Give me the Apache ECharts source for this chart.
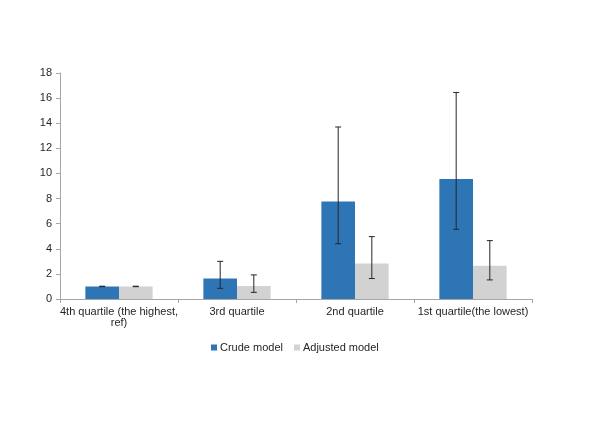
<!DOCTYPE html>
<html>
<head>
<meta charset="UTF-8">
<title></title>
<style type="text/css">
	* {margin: 0; padding: 0;}
	body {background: #fff;}
</style>
</head>
<body>
<div id="chart" style="width:613px;height:431px"></div>
<script src="https://cdn.jsdelivr.net/npm/echarts@6/dist/echarts.min.js"></script>
<script type="text/javascript">
var categories = ['4th quartile (the highest,\nref)', '3rd quartile', '2nd quartile', '1st quartile(the lowest)'];
var crude = [1.0, 1.63, 7.77, 9.55];
var crudeLow = [0.98, 0.85, 4.4, 5.55];
var crudeHigh = [1.02, 3.0, 13.7, 16.45];
var adjusted = [1.0, 1.03, 2.82, 2.65];
var adjustedLow = [0.98, 0.53, 1.63, 1.52];
var adjustedHigh = [1.02, 1.92, 4.97, 4.65];
var yTicks = {min: 0, max: 18, interval: 2};

var gapPct = 0.43;

function errData(low, high) {
	var out = [];
	for (var i = 0; i < low.length; i++) {
		out.push([i, low[i], high[i]]);
	}
	return out;
}

function errRender(side) {
	return function (params, api) {
		var cat = api.value(0);
		var lo = api.coord([cat, api.value(1)]);
		var hi = api.coord([cat, api.value(2)]);
		var catW = api.size([1, 0])[0];
		var bw = catW * (1 - gapPct) / 2;
		var x = lo[0] + side * bw / 2;
		var cap = 3;
		var style = {stroke: '#262626', lineWidth: 1};
		return {
			type: 'group',
			children: [
				{type: 'line', shape: {x1: x, y1: hi[1], x2: x, y2: lo[1]}, style: style},
				{type: 'line', shape: {x1: x - cap, y1: hi[1], x2: x + cap, y2: hi[1]}, style: style},
				{type: 'line', shape: {x1: x - cap, y1: lo[1], x2: x + cap, y2: lo[1]}, style: style}
			]
		};
	};
}

var chart = echarts.init(document.getElementById('chart'));

var option = {
	animation: false,
	textStyle: {fontFamily: 'Liberation Sans, Arial, sans-serif'},
	legend: {
		top: 337,
		left: 206,
		itemWidth: 6,
		itemHeight: 6,
		itemGap: 11,
		icon: 'rect',
		textStyle: {fontSize: 11, color: '#262626', padding: [0, 0, 0, -2]},
		data: ['Crude model', 'Adjusted model']
	},
	grid: {left: 60, right: 81, top: 73, bottom: 132, containLabel: false},
	xAxis: {
		type: 'category',
		data: categories,
		axisLine: {lineStyle: {color: '#a6a6a6'}},
		axisTick: {show: true, length: 4, lineStyle: {color: '#a6a6a6'}},
		axisLabel: {color: '#262626', fontSize: 11, interval: 0, margin: 7, lineHeight: 11}
	},
	yAxis: {
		type: 'value',
		min: yTicks.min,
		max: yTicks.max,
		interval: yTicks.interval,
		splitLine: {show: false},
		axisLine: {show: true, lineStyle: {color: '#a6a6a6'}},
		axisTick: {show: true, length: 4, lineStyle: {color: '#a6a6a6'}},
		axisLabel: {color: '#262626', fontSize: 11, margin: 8}
	},
	series: [
		{
			name: 'Crude model',
			type: 'bar',
			data: crude,
			barGap: '0%',
			barCategoryGap: (gapPct * 100) + '%',
			itemStyle: {color: '#2e75b6'}
		},
		{
			name: 'Adjusted model',
			type: 'bar',
			data: adjusted,
			itemStyle: {color: '#d2d2d2'}
		},
		{
			type: 'custom',
			renderItem: errRender(-1),
			data: errData(crudeLow, crudeHigh),
			encode: {x: 0, y: [1, 2]},
			z: 10
		},
		{
			type: 'custom',
			renderItem: errRender(1),
			data: errData(adjustedLow, adjustedHigh),
			encode: {x: 0, y: [1, 2]},
			z: 10
		}
	]
};

chart.setOption(option);
</script>
</body>
</html>
